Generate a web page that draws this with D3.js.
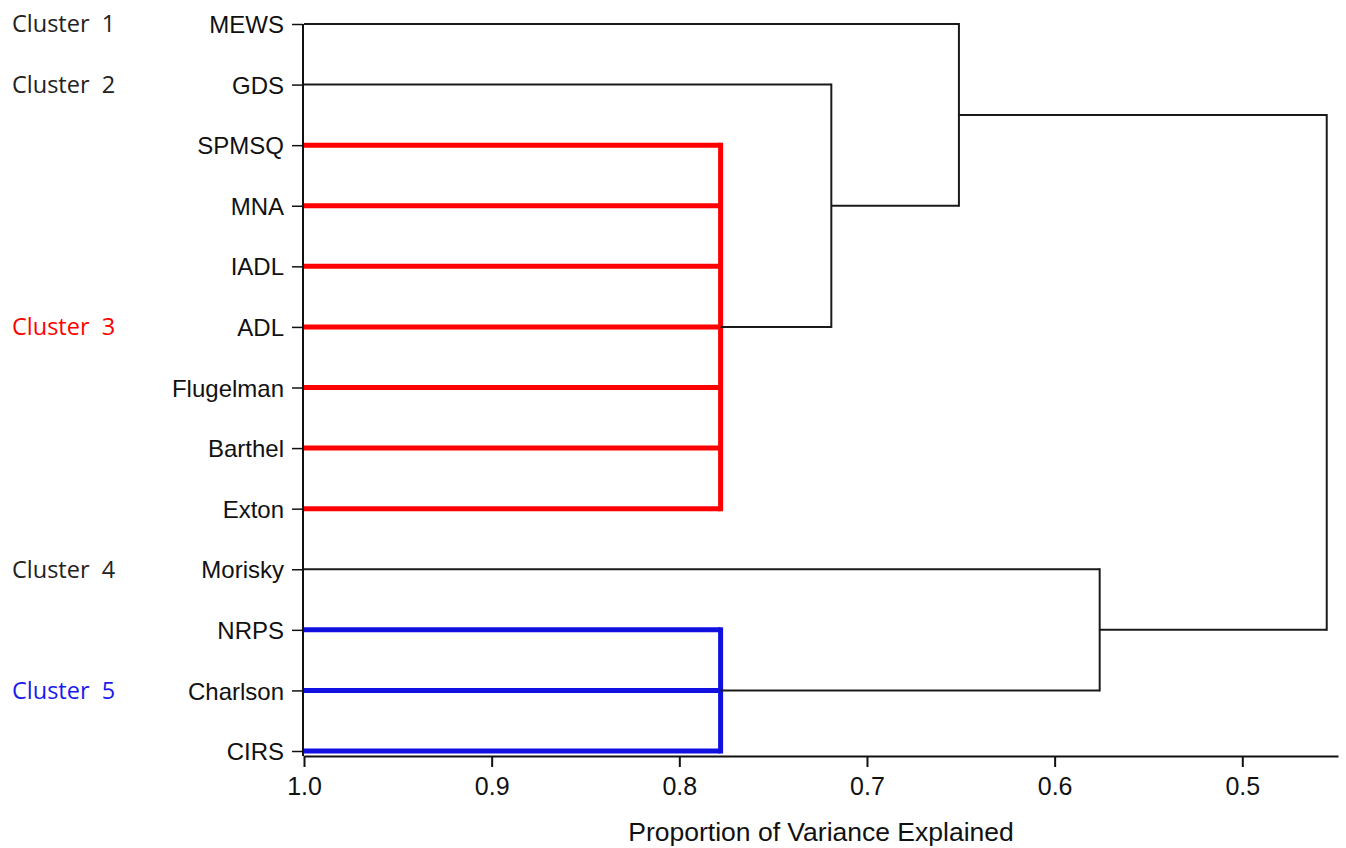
<!DOCTYPE html>
<html>
<head>
<meta charset="utf-8">
<script src="https://d3js.org/d3.v7.min.js"></script>
<style>
  body { margin: 0; background: #fff; }
  text { font-family: "Liberation Sans", Arial, sans-serif; fill: #111; }
  .clab { font-family: "Open Sans", "Noto Sans", sans-serif; white-space: pre; }
</style>
</head>
<body>
<div id="chart"></div>
<script>
// leaves, top to bottom
const leaves = ["MEWS", "GDS", "SPMSQ", "MNA", "IADL", "ADL", "Flugelman", "Barthel", "Exton",
                "Morisky", "NRPS", "Charlson", "CIRS"];

// merges (proportion of variance explained at the join)
const mergeNames    = ["C3", "C5", "C2", "C4", "C1", "root"];
const mergeHeights  = [0.778, 0.778, 0.719, 0.576, 0.651, 0.455];
const mergeChildren = [
  ["SPMSQ", "MNA", "IADL", "ADL", "Flugelman", "Barthel", "Exton"],
  ["NRPS", "Charlson", "CIRS"],
  ["GDS", "C3"],
  ["Morisky", "C5"],
  ["MEWS", "C2"],
  ["C1", "C4"]
];
const mergeColors = ["#ff0000", "#1010e0", null, null, null, null];

const clusterLabels = ["Cluster  1", "Cluster  2", "Cluster  3", "Cluster  4", "Cluster  5"];
const clusterRows   = ["MEWS", "GDS", "ADL", "Morisky", "Charlson"];
const clusterColors = ["#222", "#222", "#ff0000", "#222", "#1a1aee"];

const xTicks = [1.0, 0.9, 0.8, 0.7, 0.6, 0.5];

const W = 1346, H = 848;
const axisY = 756;
const black = "#1a1a1a";

const svg = d3.select('#chart').append('svg')
  .attr('width', W).attr('height', H);

const x = d3.scaleLinear().domain([1.0, 0.449]).range([304, 1338]);
const y = d3.scalePoint().domain(leaves).range([24, 751]);

// node positions
const pos = {};
leaves.forEach(l => { pos[l] = { x: x(1.0), y: y(l) }; });
mergeNames.forEach((m, i) => {
  const ys = mergeChildren[i].map(c => pos[c].y);
  pos[m] = { x: x(mergeHeights[i]), y: (d3.min(ys) + d3.max(ys)) / 2 };
});

const g = svg.append('g');

mergeNames.forEach((m, i) => {
  const col = mergeColors[i] || black;
  const sw = mergeColors[i] ? 5 : 2;
  const kids = mergeChildren[i];
  const ys = kids.map(c => pos[c].y);
  kids.forEach(c => {
    g.append('line')
      .attr('x1', pos[c].x).attr('x2', pos[m].x)
      .attr('y1', pos[c].y).attr('y2', pos[c].y)
      .attr('stroke', col).attr('stroke-width', sw);
  });
  g.append('line')
    .attr('x1', pos[m].x).attr('x2', pos[m].x)
    .attr('y1', d3.min(ys)).attr('y2', d3.max(ys))
    .attr('stroke', col).attr('stroke-width', sw)
    .attr('stroke-linecap', 'square');
});

// y axis
const yAxis = svg.append('g')
  .attr('transform', `translate(${x(1.0) - 1},0)`)
  .call(d3.axisLeft(y).tickSize(11).tickSizeOuter(0).tickPadding(8));
yAxis.select('.domain').remove();
yAxis.append('line')
  .attr('x1', 0).attr('x2', 0).attr('y1', y(leaves[0])).attr('y2', axisY)
  .attr('stroke', '#111').attr('stroke-width', 2);
yAxis.selectAll('.tick line').attr('stroke', '#111').attr('stroke-width', 1.5);
yAxis.selectAll('.tick text')
  .style('font-family', '"Liberation Sans", Arial, sans-serif')
  .attr('font-size', 24).attr('fill', '#111').attr('dy', '0.36em');

// x axis
const xAxis = svg.append('g')
  .attr('transform', `translate(0,${axisY})`)
  .call(d3.axisBottom(x).tickValues(xTicks).tickFormat(d3.format('.1f'))
    .tickSize(11).tickSizeOuter(0).tickPadding(10));
xAxis.select('.domain').attr('stroke', '#111').attr('stroke-width', 2);
xAxis.selectAll('.tick line').attr('stroke', '#111').attr('stroke-width', 2);
xAxis.selectAll('.tick text')
  .style('font-family', '"Liberation Sans", Arial, sans-serif')
  .attr('font-size', 25).attr('fill', '#111');

svg.append('text')
  .attr('x', 821).attr('y', 841)
  .attr('text-anchor', 'middle')
  .attr('font-size', 26.5)
  .text('Proportion of Variance Explained');

// cluster labels
svg.selectAll('.clab')
  .data(clusterLabels)
  .join('text')
  .attr('class', 'clab')
  .attr('x', 12)
  .attr('y', (d, i) => y(clusterRows[i]))
  .attr('dy', '0.36em')
  .attr('font-size', 23.5)
  .style('fill', (d, i) => clusterColors[i])
  .text(d => d);
</script>
</body>
</html>
